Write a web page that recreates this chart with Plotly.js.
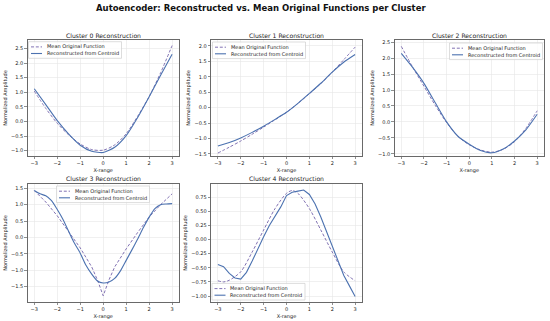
<!DOCTYPE html>
<html>
<head>
<meta charset="utf-8">
<script src="https://cdn.plot.ly/plotly-3.0.1.min.js"></script>
<style>html,body{margin:0;padding:0;background:#fff;}#chart{width:550px;height:321px;}</style>
</head>
<body>
<div id="chart"></div>
<script>
// ---------------- data ----------------
const X_COARSE = [-3,-2.5,-2,-1.5,-1,-0.5,0,0.5,1,1.5,2,2.5,3];
const X_FINE = [-3,-2.75,-2.5,-2.25,-2,-1.75,-1.5,-1.25,-1,-0.75,-0.5,-0.25,0,0.25,0.5,0.75,1,1.25,1.5,1.75,2,2.25,2.5,2.75,3];
const X_C3_MEAN = [-3,-2.5,-2,-1.5,-1,-0.5,-0.25,0,0.25,0.5,1,1.5,2,2.5,3];
const X_C4_MEAN = [-3,-2.75,-2.5,-2,-1.5,-1,-0.5,0,0.25,0.5,1,1.5,2,2.5,3];

const CLUSTER_TITLES = ["Cluster 0 Reconstruction","Cluster 1 Reconstruction","Cluster 2 Reconstruction","Cluster 3 Reconstruction","Cluster 4 Reconstruction"];
const SERIES_NAMES = ["Mean Original Function","Reconstructed from Centroid"];

const C0_MEAN  = [1.04,0.45,-0.06,-0.46,-0.77,-0.96,-0.98,-0.80,-0.42,0.18,0.85,1.67,2.60];
const C0_RECON = [1.12,0.58,0.03,-0.43,-0.81,-1.02,-1.06,-0.88,-0.48,0.14,0.85,1.58,2.30];

const C1_MEAN  = [-1.47,-1.28,-1.08,-0.86,-0.63,-0.39,-0.15,0.14,0.45,0.78,1.15,1.55,1.96];
const C1_RECON = [-1.24,-1.13,-0.98,-0.80,-0.60,-0.38,-0.15,0.14,0.46,0.79,1.15,1.47,1.72];

const C2_MEAN  = [2.37,1.72,1.12,0.52,-0.02,-0.45,-0.72,-0.88,-0.95,-0.86,-0.62,-0.20,0.35];
const C2_RECON = [2.15,1.71,1.21,0.60,0.00,-0.45,-0.70,-0.90,-0.97,-0.85,-0.60,-0.25,0.24];

const C3_MEAN  = [1.43,1.08,0.66,0.17,-0.32,-0.90,-1.30,-1.78,-1.30,-0.90,-0.35,0.15,0.62,1.00,1.33];
const C3_RECON = [1.43,1.33,1.27,1.12,0.85,0.55,0.18,-0.18,-0.48,-0.85,-1.12,-1.33,-1.39,-1.36,-1.25,-1.02,-0.70,-0.38,-0.05,0.30,0.62,0.88,1.00,1.02,1.03];

const C4_MEAN  = [-0.73,-0.75,-0.72,-0.57,-0.22,0.17,0.55,0.82,0.87,0.82,0.55,0.17,-0.22,-0.57,-0.73];
const C4_RECON = [-0.44,-0.48,-0.60,-0.68,-0.70,-0.58,-0.38,-0.15,0.05,0.25,0.42,0.58,0.78,0.84,0.86,0.88,0.80,0.63,0.40,0.14,-0.12,-0.40,-0.63,-0.82,-1.01];

const Y_TICK_STEP = [0.5,0.5,0.5,0.5,0.25];
const Y_TICK_FMT = [".1f",".1f",".1f",".1f",".2f"];

// ---------------- styling / layout ----------------
const W = 550, H = 321;
const FONT = "DejaVu Sans, Liberation Sans, sans-serif";
const MEAN_COLOR = "#8172B3";
const RECON_COLOR = "#4C72B0";
const px = p => p / W;
const py = p => 1 - p / H;

// axes boxes in pixels [left, right, top, bottom]
const BOXES = [
  [27.4, 179, 40, 156],
  [211, 362, 40, 156],
  [394.5, 544, 40, 156],
  [27.4, 179, 184, 302],
  [211, 362, 184, 302]
];
const Y_RANGES = [[-1.18,2.79],[-1.565,2.19],[-1.07,2.57],[-1.97,1.63],[-1.106,0.986]];
// legend box top-left in pixels
const LEG_POS = [[28.5,41.7],[212.5,42],[449.5,43],[56.5,186],[212,283.4]];

const dataSets = [
  {xm: X_COARSE, m: C0_MEAN, xr: X_COARSE, r: C0_RECON, ms: "spline", rs: "spline"},
  {xm: X_COARSE, m: C1_MEAN, xr: X_COARSE, r: C1_RECON, ms: "spline", rs: "spline"},
  {xm: X_COARSE, m: C2_MEAN, xr: X_COARSE, r: C2_RECON, ms: "spline", rs: "spline"},
  {xm: X_C3_MEAN, m: C3_MEAN, xr: X_FINE, r: C3_RECON, ms: "linear", rs: "spline"},
  {xm: X_C4_MEAN, m: C4_MEAN, xr: X_FINE, r: C4_RECON, ms: "spline", rs: "linear"}
];

const traces = [];
const layout = {
  width: W, height: H,
  margin: {l:0, r:0, t:0, b:0},
  paper_bgcolor: "#fff", plot_bgcolor: "#fff",
  font: {family: FONT, color: "#222", size: 5},
  showlegend: false,
  shapes: [], annotations: []
};

dataSets.forEach((d, i) => {
  const n = i === 0 ? "" : String(i + 1);
  traces.push({
    x: d.xm, y: d.m, type: "scatter", mode: "lines", name: SERIES_NAMES[0],
    xaxis: "x" + n, yaxis: "y" + n,
    line: {color: MEAN_COLOR, width: 1, dash: "3px,1.8px", shape: d.ms, smoothing: 0.8}
  });
  traces.push({
    x: d.xr, y: d.r, type: "scatter", mode: "lines", name: SERIES_NAMES[1],
    xaxis: "x" + n, yaxis: "y" + n,
    line: {color: RECON_COLOR, width: 1.1, shape: d.rs, smoothing: 0.6}
  });
  const b = BOXES[i];
  const axCommon = {
    showgrid: true, gridcolor: "#e6e6e6", gridwidth: 0.6,
    showline: true, mirror: true, linecolor: "#444", linewidth: 0.8,
    ticks: "outside", ticklen: 2.5, tickwidth: 0.6, tickcolor: "#444",
    tickfont: {size: 5, family: FONT, color: "#222"},
    zeroline: false, fixedrange: true
  };
  layout["xaxis" + n] = Object.assign({}, axCommon, {
    domain: [px(b[0]), px(b[1])], anchor: "y" + n,
    range: [-3.3, 3.3], dtick: 1, tick0: 0,
    title: {text: "X-range", font: {size: 5, family: FONT, color: "#222"}, standoff: 3}
  });
  layout["yaxis" + n] = Object.assign({}, axCommon, {
    domain: [py(b[3]), py(b[2])], anchor: "x" + n,
    range: Y_RANGES[i], dtick: Y_TICK_STEP[i], tick0: 0, tickformat: Y_TICK_FMT[i],
    title: {text: "Normalized Amplitude", font: {size: 5, family: FONT, color: "#222"}, standoff: 3}
  });
  // subplot title
  layout.annotations.push({
    text: CLUSTER_TITLES[i], xref: "paper", yref: "paper",
    x: px((b[0] + b[1]) / 2), y: py(b[2] - 5), xanchor: "center", yanchor: "middle",
    showarrow: false, borderpad: 0, font: {size: 6.1, family: FONT, color: "#222"}
  });
  // legend (drawn as shapes + text)
  const [lx, ly] = LEG_POS[i];
  layout.shapes.push({type: "rect", xref: "paper", yref: "paper", layer: "above",
    x0: px(lx), x1: px(lx + 93), y0: py(ly), y1: py(ly + 16.6),
    fillcolor: "rgba(255,255,255,0.8)", line: {color: "#cfcfcf", width: 0.7}});
  layout.shapes.push({type: "line", xref: "paper", yref: "paper", layer: "above",
    x0: px(lx + 2.5), x1: px(lx + 13.5), y0: py(ly + 5.2), y1: py(ly + 5.2),
    line: {color: MEAN_COLOR, width: 1, dash: "3px,1.8px"}});
  layout.shapes.push({type: "line", xref: "paper", yref: "paper", layer: "above",
    x0: px(lx + 2.5), x1: px(lx + 13.5), y0: py(ly + 11.8), y1: py(ly + 11.8),
    line: {color: RECON_COLOR, width: 1.1}});
  layout.annotations.push({text: SERIES_NAMES[0], xref: "paper", yref: "paper",
    x: px(lx + 17), y: py(ly + 5.2), xanchor: "left", yanchor: "middle",
    showarrow: false, borderpad: 0, font: {size: 5, family: FONT, color: "#222"}});
  layout.annotations.push({text: SERIES_NAMES[1], xref: "paper", yref: "paper",
    x: px(lx + 17), y: py(ly + 11.8), xanchor: "left", yanchor: "middle",
    showarrow: false, borderpad: 0, font: {size: 5, family: FONT, color: "#222"}});
});

layout.annotations.push({
  text: "<b>Autoencoder: Reconstructed vs. Mean Original Functions per Cluster</b>",
  xref: "paper", yref: "paper", x: px(261), y: py(8), xanchor: "center", yanchor: "middle",
  showarrow: false, font: {size: 8.5, family: FONT, color: "#111"}
});

Plotly.newPlot("chart", traces, layout, {staticPlot: true, displayModeBar: false});
</script>
</body>
</html>
